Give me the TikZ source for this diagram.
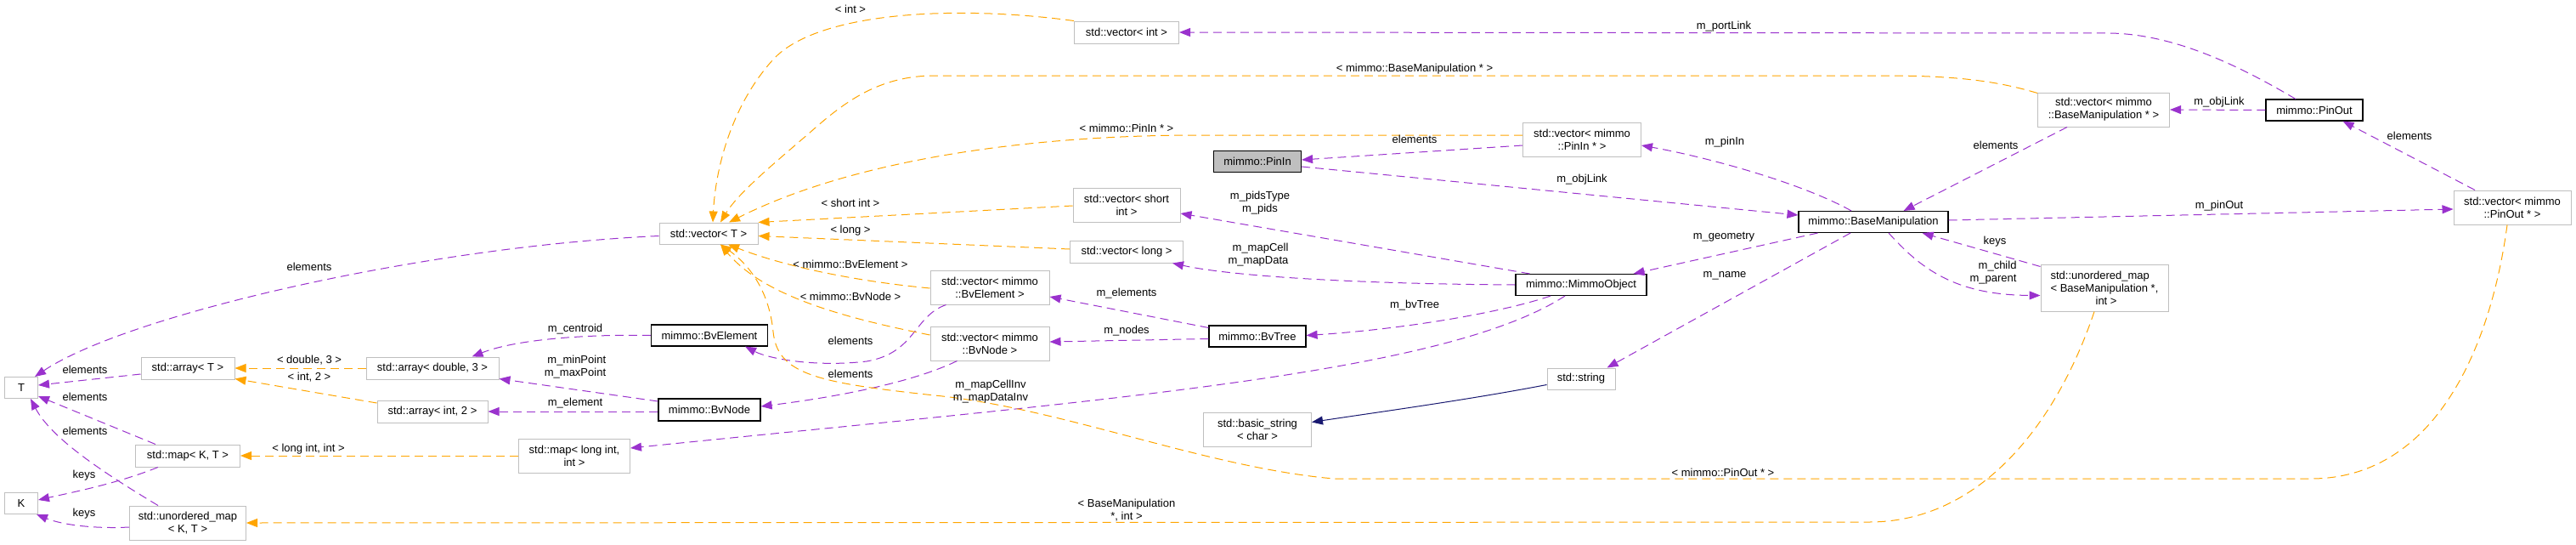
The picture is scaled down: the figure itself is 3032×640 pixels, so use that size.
\documentclass[tikz,border=0pt]{standalone}
\usepackage{fontspec}
\setmainfont{Liberation Sans}
\usetikzlibrary{arrows.meta,calc}
\definecolor{dpurple}{HTML}{9A32CD}
\definecolor{dorange}{HTML}{FFA500}
\definecolor{midblue}{HTML}{191970}
\definecolor{greyborder}{HTML}{BFBFBF}
\newcommand\dxfont{\fontsize{13}{15}\selectfont}
\tikzset{
  cls/.style={draw=greyborder, line width=1pt, fill=white, inner sep=2pt, align=center, font=\dxfont},
  doc/.style={cls, draw=black, line width=1.1pt},
  lab/.style={inner sep=0pt, align=center, font=\dxfont},
  tip/.style={-{Triangle[length=13pt,width=10pt]}},
  usesedge/.style={draw=dpurple, line width=1pt, dash pattern=on 10pt off 6pt, tip},
  tmpledge/.style={draw=dorange, line width=1pt, dash pattern=on 10pt off 6pt, tip},
  inhedge/.style={draw=midblue, line width=1pt, tip},
}
\begin{document}
\begin{tikzpicture}[x=1pt,y=-1pt]
\useasboundingbox (0,0) rectangle (3032,640);
% nodes
\node[cls, minimum width=39, minimum height=25] (T) at (25,456) {T};
\node[cls, minimum width=39, minimum height=25] (K) at (25,592) {K};
\node[cls, minimum width=110, minimum height=26] (arrT) at (221,433) {std::array< T >};
\node[cls, minimum width=156, minimum height=26] (arrd3) at (509,433) {std::array< double, 3 >};
\node[cls, minimum width=130, minimum height=26] (arri2) at (509,484) {std::array< int, 2 >};
\node[cls, minimum width=123, minimum height=26] (mapKT) at (221,536) {std::map< K, T >};
\node[cls, minimum width=131, minimum height=40] (maplong) at (676,536) {std::map< long int,\\int >};
\node[cls, minimum width=137, minimum height=40] (umapKT) at (221,615) {std::unordered\_map\\< K, T >};
\node[cls, minimum width=123, minimum height=26] (vint) at (1326,38) {std::vector< int >};
\node[doc, fill=greyborder, minimum width=103, minimum height=25] (pinin) at (1480,190) {mimmo::PinIn};
\node[cls, minimum width=126, minimum height=40] (vshort) at (1326,241) {std::vector< short\\int >};
\node[cls, minimum width=133, minimum height=26] (vlong) at (1326,296) {std::vector< long >};
\node[cls, minimum width=116, minimum height=25] (vT) at (834,274.5) {std::vector< T >};
\node[cls, minimum width=140, minimum height=40] (vbve) at (1165,338) {std::vector< mimmo\\::BvElement >};
\node[cls, minimum width=140, minimum height=40] (vbvn) at (1165,404) {std::vector< mimmo\\::BvNode >};
\node[doc, minimum width=137, minimum height=25] (bve) at (835,394.5) {mimmo::BvElement};
\node[doc, minimum width=120, minimum height=26] (bvn) at (835,482) {mimmo::BvNode};
\node[doc, minimum width=114, minimum height=25] (bvtree) at (1480,395.5) {mimmo::BvTree};
\node[cls, minimum width=127, minimum height=40] (bstr) at (1480,505.5) {std::basic\_string\\< char >};
\node[cls, minimum width=139, minimum height=40] (vpinin) at (1862,164) {std::vector< mimmo\\::PinIn * >};
\node[doc, minimum width=176, minimum height=25] (bm) at (2205,261) {mimmo::BaseManipulation};
\node[doc, minimum width=154, minimum height=25] (mo) at (1861,335) {mimmo::MimmoObject};
\node[cls, minimum width=80, minimum height=25] (str) at (1861,445.5) {std::string};
\node[cls, minimum width=155, minimum height=40] (vbm) at (2476,129) {std::vector< mimmo\\::BaseManipulation * >};
\node[doc, minimum width=114, minimum height=25] (pinout) at (2724,129.5) {mimmo::PinOut};
\node[cls, minimum width=138, minimum height=40] (vpinout) at (2957,244) {std::vector< mimmo\\::PinOut * >};
\node[cls, align=left, minimum width=150, minimum height=55] (umapbm) at (2477,338.5) {std::unordered\_map\\< BaseManipulation *,\\\hspace*{53pt}int >};

% purple usage edges
\draw[usesedge] ($(vT.west)+(0,3)$) .. controls (500,290) and (150,370) .. ($(T.north east)+(-4,0)$);
\draw[usesedge] ($(arrT.west)+(0,7)$) -- ($(T.east)+(0,-3)$);
\draw[usesedge] ($(mapKT.north)+(-38,0)$) -- ($(T.south east)+(0,-3)$);
\draw[usesedge] ($(umapKT.north)+(-35,0)$) .. controls (120,555) and (60,515) .. ($(T.south)+(11,0)$);
\draw[usesedge] ($(mapKT.south)+(-35,0)$) .. controls (140,568) and (90,578) .. ($(K.east)+(0,-4)$);
\draw[usesedge] ($(umapKT.west)+(0,5)$) .. controls (115,622) and (75,618) .. ($(K.south east)+(-2,0)$);
\draw[usesedge] (bve.west) .. controls (700,393) and (610,398) .. ($(arrd3.north east)+(-32,0)$);
\draw[usesedge] ($(bvn.west)+(0,-10)$) -- ($(arrd3.south east)+(0,-1)$);
\draw[usesedge] ($(bvn.west)+(0,2)$) -- (arri2.east);
\draw[usesedge] ($(mo.south)+(-19,0)$) .. controls (1700,440) and (1300,470) .. ($(maplong.east)+(0,-9)$);
\draw[usesedge] ($(vbve.south west)+(19,0)$) .. controls (1075,372) and (1078,415) .. (1020,425) .. controls (960,432) and (905,422) .. ($(bve.south east)+(-27,0)$);
\draw[usesedge] ($(vbvn.south west)+(32,0)$) .. controls (1080,447) and (1000,465) .. ($(bvn.east)+(0,-4)$);
\draw[usesedge] ($(bvtree.west)+(0,-10)$) -- ($(vbve.east)+(0,11)$);
\draw[usesedge] ($(bvtree.west)+(0,3)$) -- ($(vbvn.east)+(0,-2)$);
\draw[usesedge] ($(mo.south)+(-36,0)$) .. controls (1760,370) and (1640,388) .. ($(bvtree.east)+(0,-1)$);
\draw[usesedge] ($(mo.north west)+(17,0)$) -- ($(vshort.east)+(0,10)$);
\draw[usesedge] (mo.west) .. controls (1600,334) and (1450,325) .. ($(vlong.south east)+(-13,0)$);
\draw[usesedge] ($(bm.south west)+(23,0)$) -- ($(mo.north east)+(-16,0)$);
\draw[usesedge] ($(bm.south)+(-27,0)$) -- ($(str.north east)+(-10,0)$);
\draw[usesedge] ($(vpinin.west)+(0,7)$) -- ($(pinin.east)+(0,-2)$);
\draw[usesedge] ($(pinin.east)+(0,6)$) -- ($(bm.west)+(0,-8)$);
\draw[usesedge] ($(bm.north)+(-26,0)$) .. controls (2120,215) and (2010,185) .. ($(vpinin.east)+(0,7)$);
\draw[usesedge] ($(pinout.north)+(-22,0)$) .. controls (2640,80) and (2560,39) .. (2480,39) -- (vint.east);
\draw[usesedge] (pinout.west) -- (vbm.east);
\draw[usesedge] ($(vbm.south)+(-43,0)$) -- ($(bm.north east)+(-53,0)$);
\draw[usesedge] ($(bm.east)+(0,-2)$) -- ($(vpinout.west)+(0,2)$);
\draw[usesedge] ($(vpinout.north)+(-44,0)$) -- ($(pinout.south east)+(-24,0)$);
\draw[usesedge] ($(umapbm.north west)+(0,3)$) -- ($(bm.south east)+(-31,0)$);
\draw[usesedge] ($(bm.south)+(18,0)$) .. controls (2260,315) and (2300,347) .. ($(umapbm.west)+(0,9)$);

% orange template edges
\draw[tmpledge] (vint.north west) .. controls (1120,5) and (960,15) .. (910,70) .. controls (860,125) and (842,200) .. ($(vT.north)+(5,0)$);
\draw[tmpledge] ($(vbm.north west)+(0,1)$) .. controls (2350,95) and (2300,89) .. (2220,89) -- (1100,89) .. controls (1040,89) and (1000,115) .. (960,150) .. controls (920,185) and (870,225) .. ($(vT.north)+(14,0)$);
\draw[tmpledge] ($(vpinin.west)+(0,-5)$) -- (1400,159) .. controls (1200,160) and (1000,190) .. ($(vT.north)+(24,0)$);
\draw[tmpledge] ($(vshort.west)+(0,1)$) -- (vT.north east);
\draw[tmpledge] ($(vlong.west)+(0,-3)$) -- ($(vT.east)+(0,3)$);
\draw[tmpledge] ($(vbve.west)+(0,1)$) .. controls (1000,330) and (920,312) .. ($(vT.south)+(23,0)$);
\draw[tmpledge] ($(vbvn.west)+(0,-10)$) .. controls (1000,375) and (900,350) .. ($(vT.south)+(14,0)$);
\draw[tmpledge] ($(vpinout.south)+(-6,0)$) .. controls (2930,420) and (2860,563) .. (2720,563) -- (1570,563) .. controls (1420,550) and (1250,480) .. (1100,465) .. controls (960,450) and (915,440) .. (910,390) .. controls (905,340) and (880,310) .. ($(vT.south)+(14,0)$);
\draw[tmpledge] (arrd3.west) -- (arrT.east);
\draw[tmpledge] ($(arri2.west)+(0,-10)$) -- ($(arrT.south east)+(0,-1)$);
\draw[tmpledge] (maplong.west) -- (mapKT.east);
\draw[tmpledge] ($(umapbm.south)+(-12,0)$) .. controls (2420,500) and (2330,614) .. (2200,614) -- (umapKT.east);

% inheritance
\draw[inhedge] ($(str.west)+(0,7)$) .. controls (1730,470) and (1620,485) .. ($(bstr.east)+(0,-9)$);

% labels
\node[lab] (l1) at (364,314) {elements};
\node[lab] (l2) at (100,435) {elements};
\node[lab] (l3) at (100,467) {elements};
\node[lab] (l4) at (100,507) {elements};
\node[lab] (l5) at (99,559) {keys};
\node[lab] (l6) at (99,604) {keys};
\node[lab] (l7) at (364,424) {< double, 3 >};
\node[lab] (l8) at (364,444) {< int, 2 >};
\node[lab] (l9) at (677,387) {m\_centroid};
\node[lab, align=right] (l10) at (677,432) {m\_minPoint\\m\_maxPoint};
\node[lab] (l11) at (677,474) {m\_element};
\node[lab] (l12) at (363,528) {< long int, int >};
\node[lab] (l13) at (1001,11) {< int >};
\node[lab] (l14) at (1001,239) {< short int >};
\node[lab] (l15) at (1001,271) {< long >};
\node[lab] (l16) at (1001,311) {< mimmo::BvElement >};
\node[lab] (l17) at (1001,349) {< mimmo::BvNode >};
\node[lab] (l18) at (1326,151) {< mimmo::PinIn * >};
\node[lab] (l19) at (1483,239) {m\_pidsType\\m\_pids};
\node[lab, align=right] (l20) at (1481,300) {m\_mapCell\\m\_mapData};
\node[lab] (l21) at (1326,345) {m\_elements};
\node[lab] (l22) at (1326,389) {m\_nodes};
\node[lab] (l23) at (1001,401) {elements};
\node[lab] (l24) at (1001,440) {elements};
\node[lab] (l25) at (1166,461) {m\_mapCellInv\\m\_mapDataInv};
\node[lab] (l26) at (1326,600) {< BaseManipulation\\*, int >};
\node[lab] (l27) at (2029,31) {m\_portLink};
\node[lab] (l28) at (1665,81) {< mimmo::BaseManipulation * >};
\node[lab] (l29) at (1665,164) {elements};
\node[lab] (l30) at (2030,167) {m\_pinIn};
\node[lab] (l31) at (1862,211) {m\_objLink};
\node[lab] (l32) at (2029,279) {m\_geometry};
\node[lab] (l33) at (2030,324) {m\_name};
\node[lab] (l34) at (1665,359) {m\_bvTree};
\node[lab] (l35) at (2028,556) {< mimmo::PinOut * >};
\node[lab] (l36) at (2612,120) {m\_objLink};
\node[lab] (l37) at (2349,171) {elements};
\node[lab] (l38) at (2836,160) {elements};
\node[lab] (l39) at (2612,242) {m\_pinOut};
\node[lab] (l40) at (2348,284) {keys};
\node[lab, align=right] (l41) at (2346,321) {m\_child\\m\_parent};
\end{tikzpicture}
\end{document}
